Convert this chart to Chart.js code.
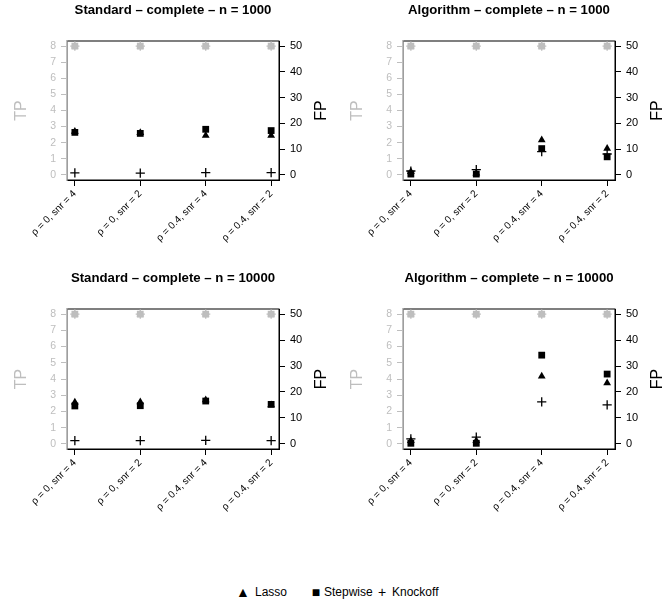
<!DOCTYPE html>
<html>
<head>
<meta charset="utf-8">
<script src="https://cdn.jsdelivr.net/npm/chart.js@4.4.1/dist/chart.umd.min.js"></script>
<style>
  body { margin: 0; width: 663px; height: 604px; background: #fff; position: relative; overflow: hidden;
         font-family: "Liberation Sans", Arial, sans-serif; }
  .panel { position: absolute; }
  .lg { position: absolute; top: 585px; line-height: 15px; font-size: 12px; color: #000; white-space: nowrap; }
  .sym { transform: translateX(-50%); }
</style>
</head>
<body>
<div class="panel" style="left:0;top:0"><canvas id="p1" width="331" height="268"></canvas></div>
<div class="panel" style="left:331px;top:0"><canvas id="p2" width="332" height="268"></canvas></div>
<div class="panel" style="left:0;top:268px"><canvas id="p3" width="331" height="268"></canvas></div>
<div class="panel" style="left:331px;top:268px"><canvas id="p4" width="332" height="268"></canvas></div>

<span class="lg sym" style="left:243px;font-size:14px">▲</span><span class="lg" style="left:255px">Lasso</span>
<span class="lg sym" style="left:316px;font-size:14px">■</span><span class="lg" style="left:324px">Stepwise</span>
<span class="lg sym" style="left:382px;font-size:14px">+</span><span class="lg" style="left:392px">Knockoff</span>

<script>
const categories = ["ρ = 0, snr = 4", "ρ = 0, snr = 2", "ρ = 0.4, snr = 4", "ρ = 0.4, snr = 2"];
const tpTicks = [0, 1, 2, 3, 4, 5, 6, 7, 8];
const fpTicks = [0, 10, 20, 30, 40, 50];
const methods = ["Lasso", "Stepwise", "Knockoff"];

// Standard - complete - n = 1000
const tpStd1000Lasso = [8, 8, 8, 8];
const tpStd1000Step = [8, 8, 8, 8];
const tpStd1000Knock = [8, 8, 8, 8];
const fpStd1000Lasso = [16.8, 16.4, 15.3, 15.3];
const fpStd1000Step = [16.5, 16.1, 17.7, 17.2];
const fpStd1000Knock = [0.8, 0.7, 0.9, 0.9];

// Algorithm - complete - n = 1000
const tpAlg1000Lasso = [8, 8, 8, 8];
const tpAlg1000Step = [8, 8, 8, 8];
const tpAlg1000Knock = [8, 8, 8, 8];
const fpAlg1000Lasso = [1.2, 0.6, 13.5, 10.2];
const fpAlg1000Step = [0.3, 0.3, 10.2, 7.0];
const fpAlg1000Knock = [1.5, 2.0, 9.0, 8.1];

// Standard - complete - n = 10000
const tpStd10000Lasso = [8, 8, 8, 8];
const tpStd10000Step = [8, 8, 8, 8];
const tpStd10000Knock = [8, 8, 8, 8];
const fpStd10000Lasso = [16.0, 16.1, 16.9, 15.0];
const fpStd10000Step = [14.6, 14.7, 16.5, 15.2];
const fpStd10000Knock = [1.2, 1.2, 1.3, 1.2];

// Algorithm - complete - n = 10000
const tpAlg10000Lasso = [8, 8, 8, 8];
const tpAlg10000Step = [8, 8, 8, 8];
const tpAlg10000Knock = [8, 8, 8, 8];
const fpAlg10000Lasso = [1.2, 1.2, 26.1, 23.5];
const fpAlg10000Step = [0.2, 0.2, 34.2, 26.9];
const fpAlg10000Knock = [1.9, 2.6, 16.2, 15.0];

const GREY = "#bebebe";
const FONT = "'Liberation Sans', Arial, sans-serif";
const shapes = ["triangle", "rect", "cross"];
const radii = [4.5, 4.8, 4.6];

// box round the plot, panel title and the two axis titles
const framePlugin = {
  id: "frame",
  beforeDraw(chart) {
    const { ctx, chartArea: a } = chart;
    ctx.save();
    ctx.strokeStyle = "#000";
    ctx.lineWidth = 1;
    ctx.strokeRect(a.left, a.top, a.right - a.left, a.bottom - a.top);
    ctx.restore();
  },
  afterDraw(chart, args, opts) {
    const { ctx, chartArea: a } = chart;
    const midY = (a.top + a.bottom) / 2;
    ctx.save();
    ctx.textAlign = "center";
    ctx.textBaseline = "middle";
    ctx.fillStyle = "#000";
    ctx.font = "bold 13.2px " + FONT;
    ctx.fillText(opts.title, (a.left + a.right) / 2, a.top - 31);
    ctx.font = "16px " + FONT;
    ctx.translate(a.left - 45, midY);
    ctx.rotate(-Math.PI / 2);
    ctx.fillStyle = GREY;
    ctx.fillText("TP", 0, 0);
    ctx.restore();
    ctx.save();
    ctx.textAlign = "center";
    ctx.textBaseline = "middle";
    ctx.font = "16px " + FONT;
    ctx.fillStyle = "#000";
    ctx.translate(a.right + 43, midY);
    ctx.rotate(-Math.PI / 2);
    ctx.fillText("FP", 0, 0);
    ctx.restore();
  }
};

function makePanel(id, title, tp, fp, g) {
  const datasets = [];
  methods.forEach((m, k) => {
    datasets.push({
      label: m + " TP", yAxisID: "y",
      data: tp[k].map((v, i) => ({ x: i + 1, y: v })),
      pointStyle: shapes[k], pointRadius: radii[k],
      backgroundColor: GREY, borderColor: GREY, borderWidth: k === 2 ? 1.3 : 0
    });
    datasets.push({
      label: m + " FP", yAxisID: "y1",
      data: fp[k].map((v, i) => ({ x: i + 1, y: v })),
      pointStyle: shapes[k], pointRadius: radii[k],
      backgroundColor: "#000", borderColor: "#000", borderWidth: k === 2 ? 1.3 : 0
    });
  });

  new Chart(document.getElementById(id), {
    type: "scatter",
    data: { datasets },
    options: {
      responsive: false,
      animation: false,
      layout: { padding: { top: g.top, left: 0, right: 0, bottom: 0 }, autoPadding: false },
      plugins: { legend: { display: false }, tooltip: { enabled: false }, frame: { title } },
      scales: {
        x: {
          type: "linear", min: 0.88, max: 4.12,
          afterBuildTicks: s => { s.ticks = categories.map((c, i) => ({ value: i + 1 })); },
          afterFit: s => { s.height = g.bottom; s.paddingLeft = 0; s.paddingRight = 0; },
          ticks: { autoSkip: false, minRotation: 45, maxRotation: 45, padding: 2, color: "#000",
                   font: { family: FONT, size: 10 }, callback: v => categories[v - 1] },
          grid: { drawOnChartArea: false, tickLength: 6, color: "#000" },
          border: { display: true, color: "#000" }
        },
        y: {
          position: "left", min: -0.32, max: 8.32,
          afterBuildTicks: s => { s.ticks = tpTicks.map(v => ({ value: v })); },
          afterFit: s => { s.width = g.left; s.paddingTop = 0; s.paddingBottom = 0; },
          ticks: { color: GREY, padding: 5, font: { family: FONT, size: 10.5 } },
          grid: { drawOnChartArea: false, tickLength: 6, color: GREY },
          border: { display: true, color: GREY, width: 1.5 }
        },
        y1: {
          position: "right", min: -2, max: 52,
          afterBuildTicks: s => { s.ticks = fpTicks.map(v => ({ value: v })); },
          afterFit: s => { s.width = g.right; s.paddingTop = 0; s.paddingBottom = 0; },
          ticks: { color: "#000", padding: 5, font: { family: FONT, size: 11 } },
          grid: { drawOnChartArea: false, tickLength: 6, color: "#000" },
          border: { display: true, color: "#000" }
        }
      }
    },
    plugins: [framePlugin]
  });
}

makePanel("p1", "Standard \u2013 complete \u2013 n = 1000",
  [tpStd1000Lasso, tpStd1000Step, tpStd1000Knock],
  [fpStd1000Lasso, fpStd1000Step, fpStd1000Knock],
  { top: 41, left: 67, right: 52, bottom: 88 });
makePanel("p2", "Algorithm \u2013 complete \u2013 n = 1000",
  [tpAlg1000Lasso, tpAlg1000Step, tpAlg1000Knock],
  [fpAlg1000Lasso, fpAlg1000Step, fpAlg1000Knock],
  { top: 41, left: 72, right: 48, bottom: 88 });
makePanel("p3", "Standard \u2013 complete \u2013 n = 10000",
  [tpStd10000Lasso, tpStd10000Step, tpStd10000Knock],
  [fpStd10000Lasso, fpStd10000Step, fpStd10000Knock],
  { top: 41, left: 67, right: 52, bottom: 87 });
makePanel("p4", "Algorithm \u2013 complete \u2013 n = 10000",
  [tpAlg10000Lasso, tpAlg10000Step, tpAlg10000Knock],
  [fpAlg10000Lasso, fpAlg10000Step, fpAlg10000Knock],
  { top: 41, left: 72, right: 48, bottom: 87 });
</script>
</body>
</html>
